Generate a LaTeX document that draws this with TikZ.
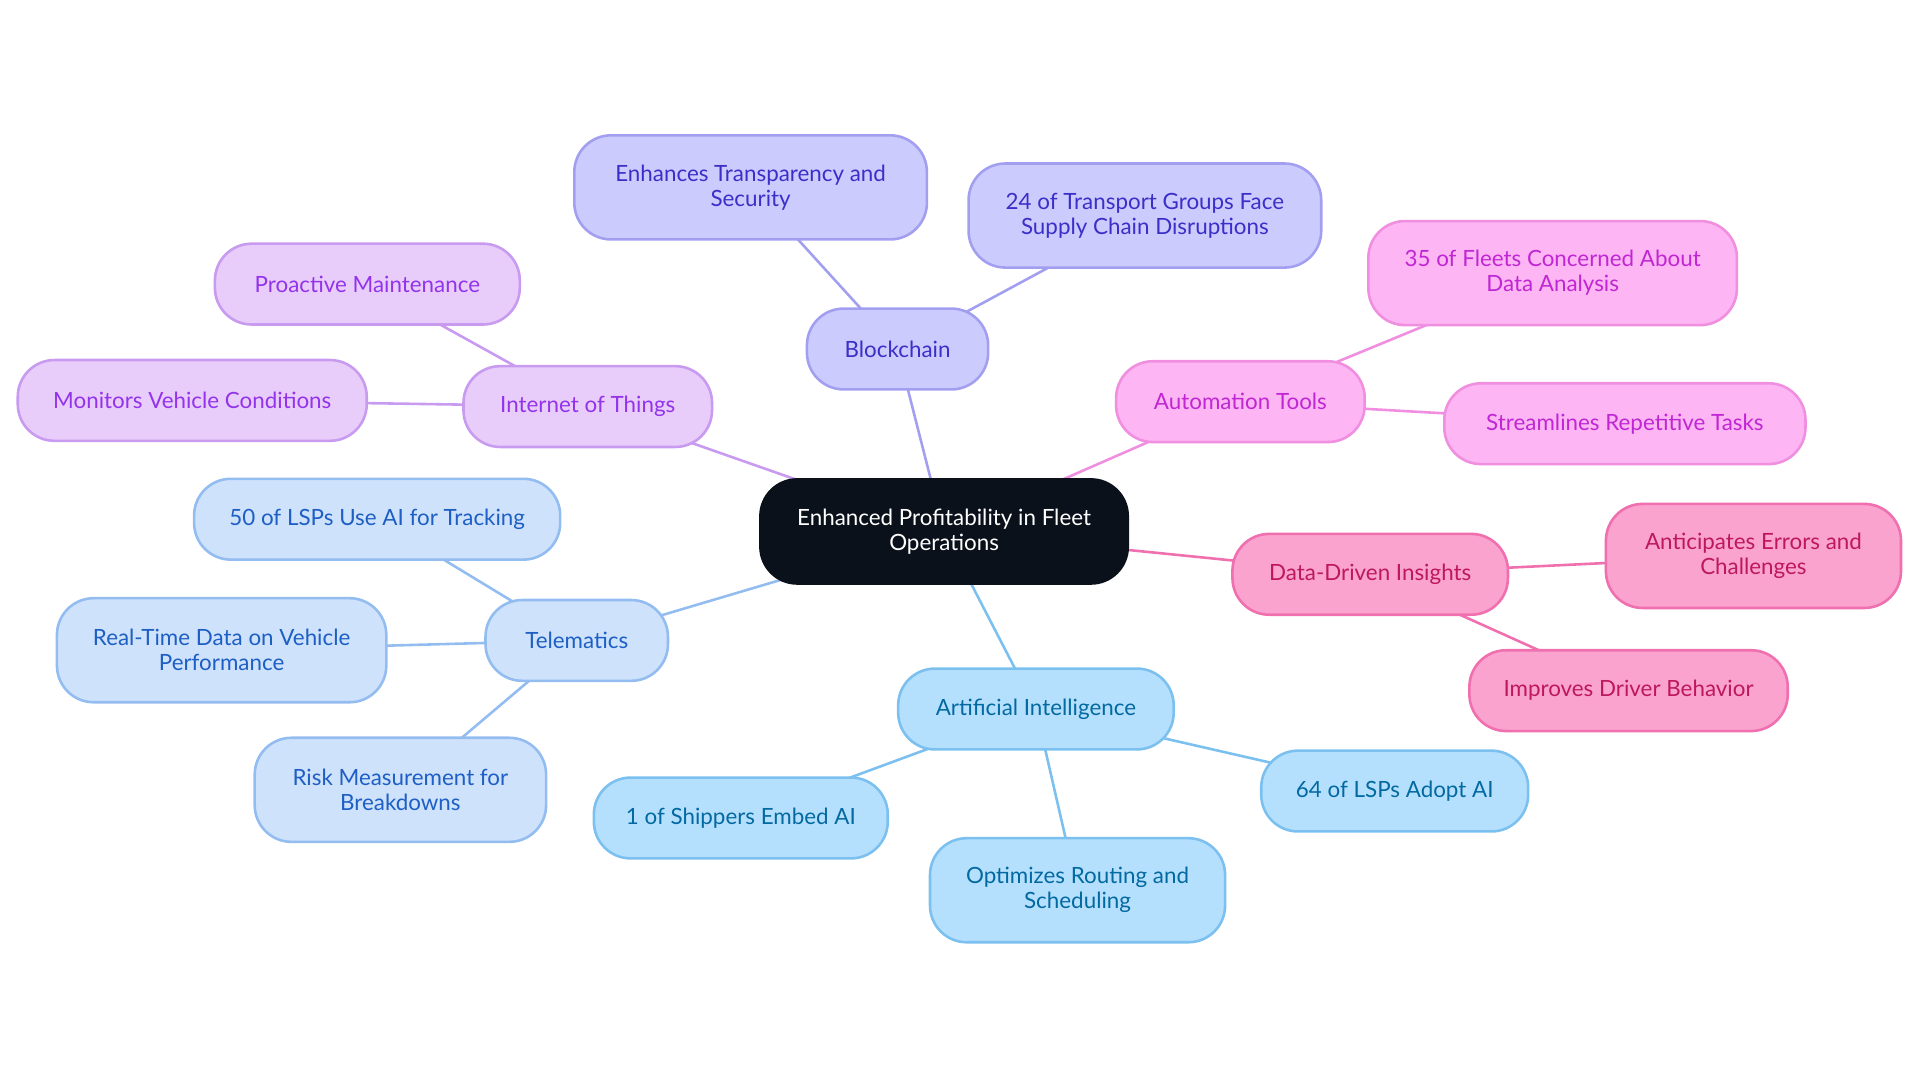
\documentclass[tikz,border=0pt]{standalone}
\usepackage{fontspec}
\setmainfont{Lato}
\usetikzlibrary{positioning, backgrounds}
\definecolor{rootfill}{HTML}{0B111B}
\definecolor{bcfill}{HTML}{CCCBFD}\definecolor{bcline}{HTML}{A39FF0}\definecolor{bctext}{HTML}{3B2FC9}
\definecolor{iofill}{HTML}{E8CDFB}\definecolor{ioline}{HTML}{C89AF0}\definecolor{iotext}{HTML}{9333EA}
\definecolor{tmfill}{HTML}{CFE2FB}\definecolor{tmline}{HTML}{93BDF0}\definecolor{tmtext}{HTML}{1D5FC4}
\definecolor{aifill}{HTML}{B5E0FD}\definecolor{ailine}{HTML}{7CC0F0}\definecolor{aitext}{HTML}{0369A1}
\definecolor{ddfill}{HTML}{FBA3CF}\definecolor{ddline}{HTML}{F06FAE}\definecolor{ddtext}{HTML}{BE185D}
\definecolor{aufill}{HTML}{FDB6F3}\definecolor{auline}{HTML}{F08EE0}\definecolor{autext}{HTML}{C026D3}

\begin{document}
\begin{tikzpicture}[x=0.1mm, y=-0.1mm,
    every node/.style={font=\fontsize{5.2}{5.8}\selectfont, align=center},
    every path/.style={line width=0.6pt},
    box/.style={draw, rounded corners=3mm, inner sep=0pt, minimum height=6.6mm},
    tall/.style={box, minimum height=8.5mm},
    bc/.style={fill=bcfill, draw=bcline, text=bctext},
    io/.style={fill=iofill, draw=ioline, text=iotext},
    tm/.style={fill=tmfill, draw=tmline, text=tmtext},
    ai/.style={fill=aifill, draw=ailine, text=aitext},
    dd/.style={fill=ddfill, draw=ddline, text=ddtext},
    au/.style={fill=aufill, draw=auline, text=autext}
]
\useasboundingbox (0,0) rectangle (1568,884);

% Root
\node (root) [tall, fill=rootfill, draw=rootfill, text=white, minimum width=30mm] at (771,434) {Enhanced Profitability in Fleet\\Operations};

% Branches
\node (bc) [box, bc, minimum width=14.8mm] at (733,285) {Blockchain};
\node (bc1) [tall, bc, minimum width=28.8mm] at (613,153) {Enhances Transparency and\\Security};
\node (bc2) [tall, bc, minimum width=28.8mm] at (935,176) {24 of Transport Groups Face\\Supply Chain Disruptions};

\node (io) [box, io, minimum width=20.3mm] at (480,332) {Internet of Things};
\node (io1) [box, io, minimum width=24.9mm] at (300,232) {Proactive Maintenance};
\node (io2) [box, io, minimum width=28.5mm] at (157,327) {Monitors Vehicle Conditions};

\node (tm) [box, tm, minimum width=14.9mm] at (471,523) {Telematics};
\node (tm1) [box, tm, minimum width=29.9mm] at (308,424) {50 of LSPs Use AI for Tracking};
\node (tm2) [tall, tm, minimum width=26.9mm] at (181,531) {Real-Time Data on Vehicle\\Performance};
\node (tm3) [tall, tm, minimum width=23.8mm] at (327,645) {Risk Measurement for\\Breakdowns};

\node (ai) [box, ai, minimum width=22.5mm] at (846,579) {Artificial Intelligence};
\node (ai1) [box, ai, minimum width=24mm] at (605,668) {1 of Shippers Embed AI};
\node (ai2) [tall, ai, minimum width=24.1mm] at (880,727) {Optimizes Routing and\\Scheduling};
\node (ai3) [box, ai, minimum width=21.8mm] at (1139,646) {64 of LSPs Adopt AI};

\node (dd) [box, dd, minimum width=22.5mm] at (1119,469) {Data-Driven Insights};
\node (dd1) [tall, dd, minimum width=24.1mm] at (1432,454) {Anticipates Errors and\\Challenges};
\node (dd2) [box, dd, minimum width=26mm] at (1330,564) {Improves Driver Behavior};

\node (au) [box, au, minimum width=20.3mm] at (1013,328) {Automation Tools};
\node (au1) [tall, au, minimum width=30.1mm] at (1268,223) {35 of Fleets Concerned About\\Data Analysis};
\node (au2) [box, au, minimum width=29.5mm] at (1327,346) {Streamlines Repetitive Tasks};

% Connectors, behind the boxes
\begin{scope}[on background layer]
\draw[bcline] (root.center) -- (bc.center); \draw[bcline] (bc.center) -- (bc1.center); \draw[bcline] (bc.center) -- (bc2.center);
\draw[ioline] (root.center) -- (io.center); \draw[ioline] (io.center) -- (io1.center); \draw[ioline] (io.center) -- (io2.center);
\draw[tmline] (root.center) -- (tm.center); \draw[tmline] (tm.center) -- (tm1.center); \draw[tmline] (tm.center) -- (tm2.center); \draw[tmline] (tm.center) -- (tm3.center);
\draw[ailine] (root.center) -- (ai.center); \draw[ailine] (ai.center) -- (ai1.center); \draw[ailine] (ai.center) -- (ai2.center); \draw[ailine] (ai.center) -- (ai3.center);
\draw[ddline] (root.center) -- (dd.center); \draw[ddline] (dd.center) -- (dd1.center); \draw[ddline] (dd.center) -- (dd2.center);
\draw[auline] (root.center) -- (au.center); \draw[auline] (au.center) -- (au1.center); \draw[auline] (au.center) -- (au2.center);
\end{scope}
\end{tikzpicture}
\end{document}
